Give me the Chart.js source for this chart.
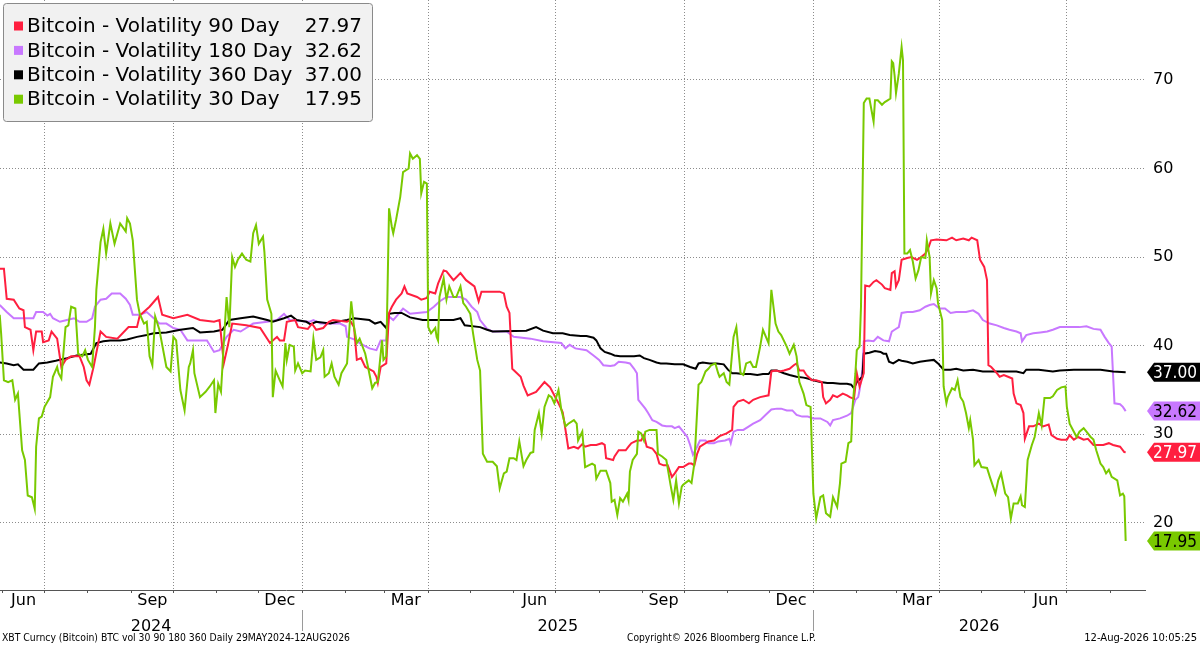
<!DOCTYPE html>
<html><head><meta charset="utf-8">
<script src="https://cdn.jsdelivr.net/npm/chart.js@4.4.1/dist/chart.umd.min.js"></script>
<style>html,body{margin:0;padding:0;background:#fff;}#wrap{position:relative;width:1200px;height:645px;}</style>
</head><body><div id="wrap"><canvas id="c"></canvas></div>
<script>
// ---------- DATA (x = days since 29 May 2024) ----------
const startDate = '2024-05-29';
const seriesNames = ['Bitcoin - Volatility 90 Day','Bitcoin - Volatility 180 Day','Bitcoin - Volatility 360 Day','Bitcoin - Volatility 30 Day'];
const seriesColors = ['#ff1f3f','#c878ff','#000000','#79c900'];
const tagTextColors = ['#ffffff','#000000','#ffffff','#000000'];

const vol90Days = [1,4,6,11,15,18,19,23,25,27, 31,32,36,38,42,45,48,52,58,61, 63,65,68,73,77,85,93,99,101,108, 114,117,125,135,144,154,158,161,164,167,
 177,187,194,199,201,204,206,212,214,221, 224,227,232,236,239,249,251,254,256,259, 262,268,270,271,273,277,279,281,284,288, 290,292,299,302,306,308,312,314,318,320,
 325,330,334,340,343,345,358,361,363,365, 367,373,375,378,384,390,394,400,403,405, 407,411,414,417,419,423,427,431,433,434, 439,440,443,448,450,452,456,459,461,463,
 467,470,472,475,478,481,483,486,489,493, 495,497,499,501,503,507,511,515,520,524, 525,528,532,536,539,544,550,552,555,558, 561,565,568,570,572,575,577,581,584,588,
 589,591,594,596,599,603,606,608,611,613, 615,618,619,622,625,627,631,633,637,638, 640,641,643,645,649,652,656,659,662,664, 666,670,677,681,684,689,693,695,699,701,
 704,706,707,709,713,715,718,721,724,725, 727,730,732,733,736,739,743,746,750,752, 756,759,763,765,768,771,775,778,782,786, 789,793,796,801,804,805];
const vol90Vals = [48.7,48.7,45.3,45.2,44.2,44.0,42.1,41.8,39.5,41.6, 41.6,40.4,40.6,41.6,40.8,37.6,38.4,38.8,38.8,37.6, 36.1,35.6,37.6,41.6,41.0,40.8,42.1,42.1,43.4,44.4, 45.5,43.5,43.1,43.5,42.9,42.7,42.9,38.0,40.1,42.5,
 42.3,42.0,40.3,41.0,40.6,40.6,42.7,42.9,42.1,41.9, 42.5,41.8,42.0,42.7,42.9,42.7,42.9,42.1,38.4,38.6, 37.6,37.1,36.5,35.8,37.6,38.0,43.7,44.4,45.2,45.9, 46.7,45.9,45.5,45.2,45.4,46.1,45.9,47.0,48.5,48.4,
 47.4,48.2,47.4,46.7,45.0,46.1,46.1,45.9,44.4,43.7, 37.4,36.5,35.5,34.4,34.8,35.9,35.3,33.5,32.5,30.5, 28.4,28.6,28.4,28.9,28.6,28.8,28.8,29.0,28.8,27.3, 27.1,27.5,28.2,28.2,28.6,29.0,29.3,29.3,29.9,28.6,
 28.4,27.8,26.7,26.5,26.5,25.2,25.6,26.3,26.3,26.7, 26.7,26.5,27.8,28.6,28.8,29.2,29.3,29.8,30.1,30.5, 33.1,33.7,33.9,33.5,33.9,34.2,34.4,37.1,37.2,37.1, 37.2,37.4,37.8,38.0,37.2,37.2,36.7,36.1,36.1,35.9,
 34.2,33.5,33.9,34.4,34.2,34.6,34.4,34.2,34.0,36.9, 35.4,36.9,46.8,46.7,47.2,47.4,46.9,46.5,46.3,48.2, 48.4,46.7,47.4,49.7,49.9,50.0,49.7,50.0,50.4,51.0, 51.9,52.0,51.9,52.2,51.9,52.1,51.9,52.2,51.9,49.7,
 48.9,47.4,37.8,37.6,36.9,36.5,36.7,36.5,36.3,34.6, 33.5,33.3,32.4,29.5,30.9,30.9,31.2,30.9,31.1,29.9, 29.5,29.4,29.4,29.9,29.4,29.7,29.4,29.5,28.8,28.8, 28.8,29.0,28.8,28.6,28.0,27.97];

const vol180Days = [1,6,11,25,27,32,35,37,39,44, 49,54,58,63,67,69,73,77,81,87, 91,94,96,101,106,111,115,120,125,130, 135,149,154,158,163,168,173,177,182,192,
 199,204,208,222,225,230,244,248,249,256, 258,265,270,273,277,279,282,289,294,306, 311,315,320,330,334,338,342,344,349,353, 363,368,380,389,402,405,408,412,420,425,
 429,432,437,440,443,448,451,454,456,457, 459,462,464,467,470,474,477,481,483,486, 488,492,494,496,499,501,505,507,511,514, 519,522,523,525,528,532,536,539,544,548,
 552,556,559,563,567,570,574,578,582,587, 592,594,596,601,606,609,612,614,615,617, 618,621,625,628,632,636,638,640,643,645, 649,653,658,662,665,668,672,676,680,684,
 691,696,700,703,708,713,718,722,727,730, 731,734,739,744,749,753,758,763,768,772, 777,782,787,790,793,795,797,801,803,805];
const vol180Vals = [44.6,43.8,43.1,43.1,43.8,43.8,43.4,43.6,43.1,42.7, 42.9,43.1,42.7,42.7,43.1,44.4,45.2,45.3,45.9,45.9, 45.3,44.6,43.5,43.5,43.8,43.1,42.5,42.5,42.0,41.8, 40.6,40.6,39.3,39.5,41.0,41.8,41.6,42.0,42.5,42.7,
 42.9,43.6,42.9,42.7,42.9,42.5,42.5,42.2,41.0,40.6, 40.3,39.7,39.5,40.6,40.6,43.3,42.9,44.2,43.6,43.8, 44.4,45.0,45.5,45.5,45.2,44.4,43.8,42.9,41.9,41.6, 41.6,41.0,40.8,40.5,40.3,39.7,40.1,39.7,39.5,38.9,
 38.4,37.8,37.7,37.8,38.2,38.1,38.0,37.4,36.9,33.9, 33.5,32.9,32.4,31.6,31.4,31.0,30.9,30.9,30.7,30.9, 30.5,29.7,28.8,27.7,28.6,29.3,29.3,29.0,29.0,29.2, 29.3,29.5,29.0,30.3,30.5,30.5,30.9,31.2,31.6,32.2,
 32.8,32.9,32.9,32.7,32.7,32.2,32.0,32.0,31.8,31.8, 31.4,31.0,31.6,31.8,32.1,32.4,33.9,34.2,35.0,37.3, 40.5,40.6,40.5,41.0,40.6,40.5,41.6,41.8,42.1,43.7, 43.8,43.8,44.0,44.4,44.6,44.7,44.2,44.2,43.7,43.8,
 43.8,44.0,43.6,42.9,42.5,42.3,42.0,41.8,41.6,41.4, 40.5,41.2,41.4,41.5,41.6,41.8,42.1,42.1,42.1,42.1, 42.2,41.9,41.8,41.0,40.3,39.9,33.5,33.4,33.1,32.62];

const vol360Days = [1,6,11,14,18,25,29,35,41,49, 56,66,70,75,80,87,92,99,106,111, 120,130,139,144,154,160,165,173,182,192, 196,204,209,213,220,223,227,237,242,249,
 254,265,269,273,277,279,283,288,294,303, 314,325,330,333,344,349,353,377,384,389, 396,403,408,416,420,425,427,430,433,437, 440,444,449,454,458,461,465,470,473,477,
 483,489,494,498,500,503,508,513,518,521, 524,527,532,537,542,546,550,552,556,561, 565,570,575,578,582,587,592,596,601,606, 609,611,613,617,618,622,626,630,632,634,
 636,639,643,645,649,653,658,663,668,671, 675,680,684,689,696,703,715,727,732,734, 743,753,758,768,787,796,805];
const vol360Vals = [38.1,38.0,37.8,37.9,37.3,37.3,38.0,38.1,38.3,38.6, 38.9,39.1,40.3,40.5,40.6,40.6,40.7,41.0,41.2,41.4, 41.5,41.8,42.0,41.5,41.6,41.8,42.9,43.1,43.3,42.9, 42.7,43.1,43.4,42.9,42.7,42.4,42.7,42.5,42.7,42.9,
 43.1,42.9,42.5,42.7,42.0,43.6,43.7,43.7,43.2,42.9, 42.9,42.9,43.1,42.3,42.1,41.8,41.6,41.7,42.1,41.7, 41.4,41.4,41.2,41.1,41.1,40.9,40.6,39.7,39.3,39.1, 38.9,38.8,38.8,38.8,38.9,38.6,38.4,38.1,38.0,38.0,
 37.9,37.9,37.6,37.4,38.0,38.1,38.0,38.0,37.9,37.3, 36.9,36.9,36.8,36.8,36.7,36.8,36.8,37.2,37.2,36.9, 36.7,36.5,36.4,36.3,36.1,35.9,35.8,35.8,35.7,35.7, 35.6,35.2,35.9,36.5,39.1,39.2,39.4,39.3,39.1,39.1,
 38.2,38.0,38.4,38.3,38.2,38.0,38.2,38.3,38.4,38.0, 37.3,37.3,37.4,37.2,37.3,37.1,37.1,37.1,36.9,37.3, 37.3,37.1,37.2,37.3,37.3,37.1,37.0];

const vol30Days = [1,2,4,7,10,12,14,17,19,21, 24,26,27,29,31,33,37,39,42,43, 45,48,50,52,55,57,60,62,64,67, 69,70,73,75,77,80,83,87,91,92, 94,96,99,101,104,106,108,110,112,115,
 120,123,125,127,130,133,136,137,139,140, 144,148,151,154,155,157,159,161,163,165, 167,169,171,174,177,180,182,184,186,189, 190,192,195,196,198,201,203,205,206,208,
 211,212,214,217,219,223,225,227,230,232, 233,236,238,240,243,245,249,252,254,256, 258,262,264,267,269,271,274,275,277,278, 279,281,282,284,287,289,293,294,296,299,
 301,302,304,306,307,309,312,313,314,315, 318,320,322,325,327,330,332,334,337,339, 342,344,346,349,353,356,358,361,363,365, 368,370,372,375,377,380,382,383,386,388,
 390,393,395,397,400,402,405,407,411,413, 414,417,419,424,426,427,430,434,437,438, 440,442,444,446,449,450,451,453,456,457, 459,461,462,465,470,471,474,477,480,482,
 484,486,488,489,493,495,497,500,502,505, 507,509,512,514,515,518,520,522,525,527, 530,532,534,537,539,541,544,546,550,552, 555,557,559,563,565,568,570,572,575,577,
 580,582,584,587,589,591,594,596,599,601, 602,605,607,609,610,612,613,615,616,618, 620,622,625,626,628,631,633,635,637,638, 639,640,641,643,645,646,647,649,651,653,
 655,657,659,662,663,665,666,668,670,671, 674,675,677,678,681,683,685,687,689,691, 693,694,696,697,700,702,706,708,712,714, 716,719,721,723,725,728,730,731,733,735,
 738,740,743,745,747,751,753,756,759,762, 763,765,768,770,772,775,777,780,782,784, 787,789,791,793,795,799,801,803,804,805];
const vol30Vals = [43.5,41.4,36.1,35.9,36.1,33.9,34.6,28.2,27.1,23.1, 22.9,21.6,28.6,31.8,32.0,33.1,34.2,36.5,37.6,36.9, 36.3,42.1,42.3,44.4,44.2,39.1,38.8,39.5,38.4,37.6, 42.1,46.3,51.7,53.2,50.4,53.8,51.5,53.8,52.9,54.4, 53.8,51.9,45.2,43.6,42.5,42.7,38.8,37.8,43.3,41.8,
 37.6,37.1,41.0,40.6,35.0,32.7,37.6,38.0,39.5,36.9, 34.2,34.8,35.4,36.1,32.4,35.7,34.8,40.3,45.5,42.1, 50.0,48.9,49.7,50.4,49.7,49.5,52.7,53.6,51.5,52.3, 50.6,45.2,43.6,34.2,37.2,36.1,35.4,40.3,38.4,40.1,
 39.9,37.2,38.0,36.9,37.2,37.1,40.8,38.4,38.7,39.5, 36.5,36.9,38.0,36.5,35.6,36.9,38.0,45.0,42.1,40.3, 40.8,39.1,37.6,35.2,35.8,35.9,40.6,38.4,38.8,47.0, 55.5,53.4,52.7,54.2,56.8,59.6,60.0,61.7,61.1,61.5,
 61.1,57.2,58.5,58.3,42.1,41.4,42.0,41.0,40.6,45.5, 47.6,45.2,46.7,45.5,45.5,46.7,44.8,44.4,43.6,41.4, 38.4,37.2,27.8,26.9,26.9,26.4,23.9,25.6,25.8,27.3, 27.3,27.1,29.2,26.4,27.1,27.9,28.0,30.5,32.4,30.1,
 33.1,34.4,34.2,33.5,35.0,32.8,30.9,31.2,31.6,31.2, 29.3,30.3,26.3,26.7,26.5,25.0,25.9,25.9,24.5,22.4, 22.6,20.9,22.8,22.4,23.3,22.6,25.8,27.1,27.8,30.3, 30.1,29.3,30.3,30.5,30.5,27.8,27.5,27.1,24.3,22.6,
 24.8,22.2,24.1,24.3,24.8,24.5,26.7,35.6,35.9,37.1, 37.4,37.8,38.0,36.9,36.5,36.9,35.9,35.6,41.0,42.1, 36.9,36.7,38.0,38.2,37.6,37.6,39.9,41.8,40.3,46.3, 42.5,41.6,41.2,39.9,39.1,40.1,38.8,35.9,34.6,33.3,
 33.1,23.3,20.5,22.9,23.1,21.1,20.7,22.9,21.8,24.5, 26.7,26.9,29.0,29.2,33.1,36.9,39.5,39.9,44.4,67.4, 67.9,67.9,65.3,67.7,67.7,67.2,67.5,67.7,67.9,72.1, 71.9,70.5,68.5,70.7,73.7,72.2,50.4,50.4,50.8,49.5,
 47.6,48.5,50.0,49.9,51.9,50.0,45.9,47.4,46.5,44.8, 42.9,35.4,33.5,34.2,35.2,35.0,36.1,34.2,33.7,32.4, 30.7,31.6,29.4,26.5,27.1,26.3,26.2,25.2,23.3,24.8, 25.6,23.3,22.9,20.5,22.2,22.2,23.0,22.0,21.8,27.1,
 28.8,29.7,32.4,31.0,34.1,34.1,34.3,35.0,35.3,35.4, 33.1,31.2,30.3,29.7,30.3,30.7,30.3,29.7,29.4,28.2, 26.7,26.3,25.6,26.0,25.2,24.8,23.1,23.3,23.0,17.95];

// axis labels
const monthTickDates = ['2024-06-01','2024-07-01','2024-08-01','2024-09-01','2024-10-01','2024-11-01','2024-12-01',
 '2025-01-01','2025-02-01','2025-03-01','2025-04-01','2025-05-01','2025-06-01','2025-07-01','2025-08-01','2025-09-01','2025-10-01','2025-11-01','2025-12-01',
 '2026-01-01','2026-02-01','2026-03-01','2026-04-01','2026-05-01','2026-06-01','2026-07-01','2026-08-01'];
const monthTickLabels = ['Jun','','','Sep','','','Dec', '','','Mar','','','Jun','','','Sep','','','Dec', '','','Mar','','','Jun','',''];
const yearLabels = ['2024','2025','2026'];
const yearStartDates = ['2025-01-01','2026-01-01'];
const yTickValues = [20,30,40,50,60,70];
const footerLeft = 'XBT Curncy (Bitcoin) BTC vol 30 90 180 360 Daily 29MAY2024-12AUG2026';
const footerMid = 'Copyright\u00A9 2026 Bloomberg Finance L.P.';
const footerRight = '12-Aug-2026 10:05:25';

// ---------- CHART ----------
const FONT = 'DejaVu Sans';
const dayOf = s => (Date.parse(s) - Date.parse(startDate)) / 864e5;
const XMIN = 1.2, XMAX = 818.8, YMIN = 12.43, YMAX = 79.02;
const monthTickDays = monthTickDates.map(dayOf);
const yearBounds = [XMIN, ...yearStartDates.map(dayOf), XMAX];
const yearCenters = yearLabels.map((_, i) => (yearBounds[i] + yearBounds[i + 1]) / 2);
const isQuarter = i => ['01','04','07','10'].includes(monthTickDates[i].slice(5, 7));

const dayArrays = [vol90Days, vol180Days, vol360Days, vol30Days];
const valArrays = [vol90Vals, vol180Vals, vol360Vals, vol30Vals];
const drawOrder = [1, 3, 2, 0];
const datasets = seriesNames.map((n, k) => ({
  label: n,
  data: dayArrays[k].map((d, i) => ({x: d, y: valArrays[k][i]})),
  borderColor: seriesColors[k], backgroundColor: seriesColors[k],
  borderWidth: 2, pointRadius: 0, tension: 0, fill: false, order: drawOrder[k]
}));
const lastVals = valArrays.map(a => a[a.length - 1]);

Chart.defaults.font.family = FONT;
Chart.defaults.color = '#000';

const decor = {
  id: 'decor',
  afterDraw(chart) {
    const {ctx, scales: {x, y}} = chart;
    ctx.save();
    // year separators and year labels
    ctx.strokeStyle = '#9a9a9a'; ctx.lineWidth = 1;
    yearStartDates.forEach(s => {
      const px = Math.round(x.getPixelForValue(dayOf(s))) + 0.5;
      ctx.beginPath(); ctx.moveTo(px, 610); ctx.lineTo(px, 631); ctx.stroke();
    });
    ctx.fillStyle = '#000'; ctx.textBaseline = 'middle'; ctx.textAlign = 'center';
    ctx.font = '16px "' + FONT + '"';
    yearLabels.forEach((t, i) => ctx.fillText(t, x.getPixelForValue(yearCenters[i]), 627));
    // footer
    ctx.font = '10px "' + FONT + '"';
    ctx.textAlign = 'left';
    ctx.fillText(footerLeft, 2, 638.5, 348);
    ctx.fillText(footerMid, 627, 638.5, 189);
    ctx.textAlign = 'right';
    ctx.fillText(footerRight, 1197, 638.5, 138);
    // value tags
    ctx.font = '17px "' + FONT + '"';
    [2, 1, 0, 3].forEach(k => {
      const py = y.getPixelForValue(lastVals[k]);
      const h = 9.5;
      ctx.beginPath();
      ctx.moveTo(1147, py); ctx.lineTo(1154, py - h); ctx.lineTo(1200, py - h);
      ctx.lineTo(1200, py + h); ctx.lineTo(1154, py + h); ctx.closePath();
      ctx.fillStyle = seriesColors[k]; ctx.fill();
      ctx.fillStyle = tagTextColors[k]; ctx.textAlign = 'right';
      ctx.fillText(lastVals[k].toFixed(2), 1197, py + 1, 44);
    });
    // legend
    ctx.beginPath();
    if (ctx.roundRect) ctx.roundRect(3.5, 3.5, 369, 118, 3); else ctx.rect(3.5, 3.5, 369, 118);
    ctx.fillStyle = '#f1f1f1'; ctx.fill();
    ctx.strokeStyle = '#8a8a8a'; ctx.lineWidth = 1; ctx.stroke();
    ctx.font = '20px "' + FONT + '"';
    seriesNames.forEach((n, k) => {
      const ry = 26 + k * 24.4;
      ctx.fillStyle = seriesColors[k];
      ctx.fillRect(14, ry - 4.5, 9, 9);
      ctx.fillStyle = '#000'; ctx.textAlign = 'left';
      ctx.fillText(n, 27, ry + 1);
      ctx.textAlign = 'right';
      ctx.fillText(lastVals[k].toFixed(2), 362, ry + 1);
    });
    ctx.restore();
  }
};

new Chart(document.getElementById('c'), {
  type: 'line',
  data: {datasets},
  options: {
    responsive: true, maintainAspectRatio: false, animation: false, events: [],
    layout: {padding: {top: 0, left: 0, right: 0, bottom: 10}},
    plugins: {legend: {display: false}, tooltip: {enabled: false}},
    scales: {
      x: {
        type: 'linear', position: 'bottom', min: XMIN, max: XMAX,
        afterBuildTicks: s => { s.ticks = monthTickDays.map(v => ({value: v})); },
        afterFit: s => { s.height = 45; s.paddingLeft = 0; s.paddingRight = 0; },
        grid: {display: true, drawOnChartArea: true, drawTicks: true, tickLength: 3,
          color: c => isQuarter(c.index) ? '#8c8c8c' : 'rgba(0,0,0,0)', tickColor: '#555', lineWidth: 1},
        border: {display: true, color: '#555', width: 1, dash: [1, 2]},
        ticks: {autoSkip: false, maxRotation: 0, minRotation: 0, labelOffset: 21, padding: -2,
          font: {size: 16}, color: '#000', callback: (v, i) => monthTickLabels[i]}
      },
      y: {
        type: 'linear', position: 'right', min: YMIN, max: YMAX,
        afterBuildTicks: s => { s.ticks = yTickValues.map(v => ({value: v})); },
        afterFit: s => { s.width = 55; s.paddingTop = 0; s.paddingBottom = 0; },
        grid: {display: true, drawOnChartArea: true, drawTicks: false, color: '#8c8c8c', lineWidth: 1},
        border: {display: false, dash: [1, 2]},
        ticks: {padding: 8, font: {size: 16}, color: '#000'}
      }
    }
  },
  plugins: [decor]
});
</script>
</body></html>
